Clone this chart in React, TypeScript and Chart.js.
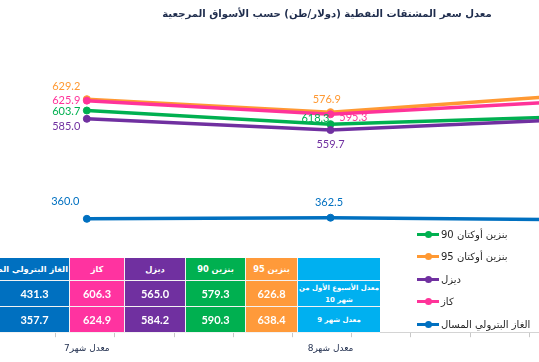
import React, { useEffect, useRef } from "react";
import { Chart, registerables } from "chart.js";

Chart.register(...registerables);

// ---------- data ----------
const chartTitle = "معدل سعر المشتقات النفطية (دولار/طن) حسب الأسواق المرجعية";
const categories = ["معدل شهر7", "معدل شهر8", "معدل شهر9"];

const seriesNames = [
  "بنزين أوكتان 90",
  "بنزين أوكتان 95",
  "ديزل",
  "كاز",
  "الغاز البترولي المسال",
];
const seriesColors = ["#00b050", "#ff9933", "#7030a0", "#ff3399", "#0070c0"];

// plotted values (positions)
const octane90 = [603.7, 573.0, 590.3];
const octane95 = [629.2, 600.0, 638.4];
const diesel = [585.0, 559.7, 584.2];
const kerosene = [625.9, 595.3, 624.9];
const lpg = [360.0, 362.5, 357.7];

// data labels as printed on the picture
const octane90Labels = [603.7, 618.3, null];
const octane95Labels = [629.2, 576.9, null];
const dieselLabels = [585.0, 559.7, null];
const keroseneLabels = [625.9, 595.3, null];
const lpgLabels = [360.0, 362.5, null];

// table
const tableRowLabels = ["معدل الأسبوع الأول من|شهر 10", "معدل شهر 9"];
const tableHeaders = ["بنزين 95", "بنزين 90", "ديزل", "كاز", "الغاز البترولي المسال"];
const week1Month10 = [626.8, 579.3, 565.0, 606.3, 431.3];
const month9 = [638.4, 590.3, 584.2, 624.9, 357.7];
const tableColors = ["#ff9a3a", "#00b050", "#7030a0", "#ff33a0", "#0070c0"];
const tableLabelColor = "#00b0f0";

// ---------- styling ----------
const AR_FONT = '"DejaVu Sans", sans-serif';
const NUM_FONT = 'Lato, "Liberation Sans", sans-serif';

function fitSize(text: string, weight: string, family: string, target: number): number {
  const c = document.createElement("canvas").getContext("2d");
  if (!c) return 11;
  c.font = `${weight} 100px ${family}`;
  const w = c.measureText(text).width || 100;
  return (100 * target) / w;
}

// label placement per series, per point: [dx, dy, align]
const labelPlacement: [number, number, CanvasTextAlign][][] = [
  [[-6.5, 1.4, "right"], [-1, -5.5, "right"], [0, 0, "center"]],
  [[-6.5, -12.6, "right"], [-3.8, -12.5, "center"], [0, 0, "center"]],
  [[-6.5, 7.4, "right"], [0, 14, "center"], [0, 0, "center"]],
  [[-6.5, 0, "right"], [8.8, 3.5, "left"], [0, 0, "center"]],
  [[-7.5, -17.3, "right"], [-1.5, -15, "center"], [0, 0, "center"]],
];

const seriesValues = [octane90, octane95, diesel, kerosene, lpg];
const seriesLabels = [octane90Labels, octane95Labels, dieselLabels, keroseneLabels, lpgLabels];

const pointLabelPlugin = {
  id: "pointLabels",
  afterDatasetsDraw(chart: any) {
    const ctx = chart.ctx as CanvasRenderingContext2D;
    ctx.save();
    ctx.font = `11px ${NUM_FONT}`;
    ctx.textBaseline = "middle";
    chart.data.datasets.forEach((ds: any, i: number) => {
      const meta = chart.getDatasetMeta(i);
      meta.data.forEach((pt: any, j: number) => {
        const v = seriesLabels[i][j];
        if (v == null) return;
        const [dx, dy, align] = labelPlacement[i][j];
        ctx.fillStyle = ds.borderColor;
        ctx.textAlign = align;
        ctx.fillText(v.toFixed(1), pt.x + dx, pt.y + dy);
      });
    });
    ctx.restore();
  },
};

function LineChart() {
  const ref = useRef<HTMLCanvasElement>(null);
  useEffect(() => {
    if (!ref.current) return;
    const chart = new Chart(ref.current, {
      type: "line",
      data: {
        labels: categories,
        datasets: seriesValues.map((vals, i) => ({
          label: seriesNames[i],
          data: vals,
          borderColor: seriesColors[i],
          backgroundColor: seriesColors[i],
          pointBackgroundColor: seriesColors[i],
          pointBorderColor: seriesColors[i],
          borderWidth: 3.5,
          pointRadius: 3.5,
          pointBorderWidth: 1,
          tension: 0,
          order: seriesValues.length - i,
        })),
      },
      options: {
        responsive: false,
        animation: false,
        layout: { padding: { top: 67.7, bottom: 2, left: 0, right: 0 } },
        plugins: {
          legend: { display: false },
          title: { display: false },
          tooltip: { enabled: false },
        },
        scales: {
          x: {
            type: "category",
            offset: true,
            weight: 1,
            grid: { display: false, drawTicks: false },
            border: { display: false },
            ticks: {
              color: "#1f2d4d",
              font: { family: AR_FONT, size: 9 },
              padding: 6,
              maxRotation: 0,
              autoSkip: false,
            },
          },
          xt: {
            type: "linear",
            axis: "x",
            position: "bottom",
            weight: 0,
            min: -92,
            max: 649,
            grid: { display: true, drawOnChartArea: false, drawTicks: true, tickLength: 5, color: "#c8c8c8" },
            border: { display: true, color: "#d4d4d4" },
            ticks: { display: false, stepSize: 60, includeBounds: false },
          },
          y: { display: false, min: 105, max: 700 },
        },
      } as any,
      plugins: [pointLabelPlugin],
    });
    return () => chart.destroy();
  }, []);
  return <canvas ref={ref} width={741} height={362} style={{ width: 741, height: 362, display: "block" }} />;
}

const colWidths = [70, 55, 61, 60, 52, 82]; // left to right: LPG, kaz, diesel, 90, 95, label
const rowHeights = [23, 26, 26];

function DataTable() {
  // visual order left to right
  const order = [4, 3, 2, 1, 0];
  const rows = [week1Month10, month9];
  const labelSize = fitSize(tableRowLabels[0].split("|")[0], "bold", AR_FONT, 80);
  const cellBase: React.CSSProperties = {
    boxSizing: "border-box",
    borderRight: "1px solid #f2f2f2",
    borderBottom: "1px solid #f2f2f2",
    color: "#fff",
    fontWeight: "bold",
    display: "flex",
    alignItems: "center",
    justifyContent: "center",
    overflow: "hidden",
    whiteSpace: "nowrap",
  };
  return (
    <div style={{ position: "absolute", left: 0, top: 258, width: 380 }}>
      <div style={{ display: "flex", height: rowHeights[0] }}>
        {order.map((k, c) => (
          <div
            key={c}
            style={{
              ...cellBase,
              width: colWidths[c],
              background: tableColors[k],
              fontFamily: AR_FONT,
              fontSize: 8.3,
              direction: "rtl",
              justifyContent: k === 4 ? "flex-start" : "center",
              paddingRight: k === 4 ? 1 : 0,
            }}
          >
            {tableHeaders[k]}
          </div>
        ))}
        <div style={{ ...cellBase, width: colWidths[5], background: tableLabelColor, borderRight: "none" }} />
      </div>
      {rows.map((row, r) => (
        <div key={r} style={{ display: "flex", height: rowHeights[r + 1] }}>
          {order.map((k, c) => (
            <div
              key={c}
              style={{
                ...cellBase,
                width: colWidths[c],
                background: tableColors[k],
                fontFamily: NUM_FONT,
                fontSize: 11,
              }}
            >
              {row[k].toFixed(1)}
            </div>
          ))}
          <div
            style={{
              ...cellBase,
              width: colWidths[5],
              background: tableLabelColor,
              borderRight: "none",
              fontFamily: AR_FONT,
              fontSize: labelSize,
              direction: "rtl",
              whiteSpace: "normal",
              textAlign: "center",
              lineHeight: "12px",
              overflow: "visible",
              flexDirection: "column",
            }}
          >
            {tableRowLabels[r].split("|").map((t, i) => (
              <span key={i} style={{ whiteSpace: "nowrap" }}>{t}</span>
            ))}
          </div>
        </div>
      ))}
    </div>
  );
}

function Legend() {
  const legendOrder = [0, 1, 2, 3, 4];
  return (
    <div style={{ position: "absolute", left: 417, top: 223 }}>
      {legendOrder.map((i) => (
        <div key={i} style={{ display: "flex", alignItems: "center", height: 22.5 }}>
          <div style={{ position: "relative", width: 22, height: 8, marginRight: 2 }}>
            <div style={{ position: "absolute", left: 0, top: 2.5, width: 22, height: 3, background: seriesColors[i] }} />
            <div
              style={{
                position: "absolute",
                left: 7.5,
                top: 0.5,
                width: 7,
                height: 7,
                borderRadius: "50%",
                background: seriesColors[i],
              }}
            />
          </div>
          <span style={{ fontFamily: AR_FONT, fontSize: 10, color: "#262626", direction: "rtl", whiteSpace: "nowrap" }}>
            {seriesNames[i]}
          </span>
        </div>
      ))}
    </div>
  );
}

function Title() {
  const width = 330;
  const size = fitSize(chartTitle, "bold", AR_FONT, width);
  return (
    <div
      style={{
        position: "absolute",
        left: 327 - width / 2,
        top: 15 - size * 0.65,
        width,
        textAlign: "center",
        whiteSpace: "nowrap",
        fontFamily: AR_FONT,
        fontWeight: "bold",
        fontSize: size,
        color: "#1f2d4d",
        direction: "rtl",
      }}
    >
      {chartTitle}
    </div>
  );
}

export default function App() {
  return (
    <div
      style={{
        position: "absolute",
        left: 0,
        top: 0,
        width: 539,
        height: 362,
        overflow: "hidden",
        background: "#fff",
      }}
    >
      <div style={{ position: "absolute", left: -40, top: 0 }}>
        <LineChart />
      </div>
      <Title />
      <DataTable />
      <Legend />
    </div>
  );
}
